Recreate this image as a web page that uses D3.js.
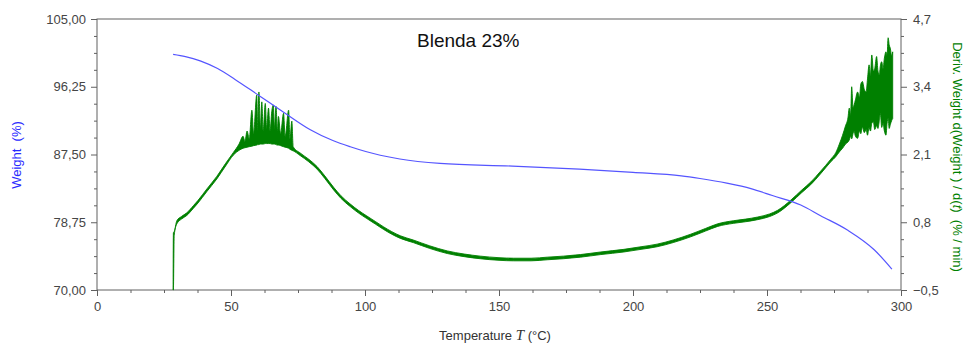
<!DOCTYPE html>
<html lang="en">
<head>
<meta charset="utf-8">
<title>Blenda 23%</title>
<script src="https://d3js.org/d3.v7.min.js"></script>
<style>
  body { margin: 0; background: #fff; }
  svg text { font-family: "Liberation Sans", Arial, sans-serif; }
  .tick text { fill: #454545; font-size: 13px; }
  .tick line { stroke: #606060; }
</style>
</head>
<body>
<svg width="970" height="349"></svg>
<script>
// weight curve (blue, left axis)
var weightT = [28.4, 33, 38.5, 45, 51.5, 60.1, 69.5, 79.6, 88, 94.5, 105.7, 113, 128, 155, 180, 200, 218, 225, 235, 244, 252, 262.6, 270, 280, 290, 296.6];
var weightVal = [100.44, 100.15, 99.6, 98.6, 97.2, 95.2, 93.0, 90.7, 89.3, 88.5, 87.4, 86.92, 86.35, 86.0, 85.6, 85.2, 84.75, 84.4, 83.8, 83.1, 82.2, 80.98, 79.6, 77.75, 75.2, 72.7];

// derivative curve (green, right axis) - lower / upper envelope of the noisy trace
var derivT = [28.4, 28.5, 28.8, 29.8, 31.5, 33.5, 36, 37.7, 41, 44.7, 48, 50.9, 53, 54.5, 55.2, 56, 56.8, 57.8, 58.4, 59.6, 60.0, 60.4, 61.0, 61.5, 62.0, 62.8, 63.3, 64.0, 64.6, 65.2, 65.8, 66.2, 66.8, 67.3, 67.7, 68.5, 69.6, 70.2, 71.5, 72.0, 72.7, 73.2, 75.8, 79, 82.1, 85, 88.3, 91, 94.5, 97.5, 100.7, 104, 107, 110, 113.2, 118, 124, 130.7, 137, 143, 150, 155.4, 162, 168, 174, 180.4, 188, 196.6, 203, 209, 215, 221.5, 227, 231.6, 237.6, 242, 246.5, 251, 254, 259, 263, 266.3, 270, 273.8, 275.7, 277, 278.2, 279.3, 280.2, 280.7, 281.2, 281.6, 282.1, 282.5, 283.0, 283.8, 284.5, 285.0, 285.6, 286.3, 287.0, 287.5, 288.1, 288.6, 289.1, 289.7, 290.2, 290.9, 291.4, 291.9, 292.3, 292.8, 293.3, 293.8, 294.4, 294.8, 295.2, 295.6, 296.0, 296.5, 296.9];
var derivLo = [-0.5, -0.5, 0.55, 0.77, 0.86, 0.93, 1.07, 1.17, 1.39, 1.63, 1.88, 2.09, 2.18, 2.22, 2.23, 2.24, 2.25, 2.26, 2.27, 2.28, 2.29, 2.29, 2.30, 2.30, 2.30, 2.31, 2.31, 2.31, 2.31, 2.30, 2.30, 2.30, 2.29, 2.28, 2.28, 2.27, 2.25, 2.24, 2.22, 2.20, 2.18, 2.17, 2.08, 1.96, 1.82, 1.64, 1.42, 1.26, 1.10, 0.98, 0.87, 0.76, 0.66, 0.57, 0.49, 0.41, 0.30, 0.20, 0.14, 0.10, 0.07, 0.06, 0.06, 0.08, 0.10, 0.13, 0.18, 0.23, 0.28, 0.33, 0.41, 0.52, 0.63, 0.72, 0.78, 0.81, 0.85, 0.91, 0.98, 1.18, 1.37, 1.52, 1.73, 1.96, 2.06, 2.15, 2.22, 2.30, 2.34, 2.38, 2.45, 2.40, 2.50, 2.54, 2.45, 2.41, 2.55, 2.50, 2.63, 2.52, 2.58, 2.47, 2.62, 2.55, 2.70, 2.73, 2.58, 2.65, 2.60, 2.75, 2.89, 2.62, 2.70, 2.55, 2.47, 2.70, 2.79, 2.60, 2.67, 2.75, 2.79];
var derivHi = [-0.5, 0.60, 0.62, 0.83, 0.91, 0.98, 1.12, 1.22, 1.44, 1.68, 1.93, 2.14, 2.30, 2.45, 2.35, 2.55, 2.40, 2.95, 2.50, 3.24, 2.55, 3.30, 2.60, 3.11, 2.55, 3.08, 2.60, 2.99, 2.55, 2.92, 3.05, 2.60, 3.02, 2.55, 2.83, 2.50, 2.89, 2.45, 2.95, 2.40, 2.74, 2.25, 2.13, 2.01, 1.87, 1.69, 1.47, 1.31, 1.15, 1.03, 0.92, 0.81, 0.71, 0.62, 0.54, 0.46, 0.35, 0.25, 0.19, 0.15, 0.12, 0.11, 0.11, 0.13, 0.15, 0.18, 0.23, 0.28, 0.33, 0.38, 0.46, 0.57, 0.68, 0.77, 0.83, 0.86, 0.90, 0.96, 1.03, 1.23, 1.42, 1.57, 1.78, 2.01, 2.14, 2.30, 2.47, 2.65, 2.80, 2.99, 2.85, 3.40, 3.00, 3.05, 3.15, 3.30, 3.20, 3.45, 3.50, 3.35, 3.30, 3.55, 3.82, 3.60, 4.01, 3.70, 3.75, 3.98, 3.70, 3.63, 3.80, 3.88, 3.75, 3.95, 4.07, 4.00, 4.34, 4.20, 4.14, 4.00, 4.07];

var xTicks = [0, 50, 100, 150, 200, 250, 300];
var leftTicks = [70, 78.75, 87.5, 96.25, 105];
var rightTicks = [-0.5, 0.8, 2.1, 3.4, 4.7];

var svg = d3.select("svg");
var plotLeft = 97, plotRight = 901, plotTop = 19, plotBottom = 290;

var x = d3.scaleLinear().domain([0, 300]).range([plotLeft, plotRight]);
var yL = d3.scaleLinear().domain([70, 105]).range([plotBottom, plotTop]);
var yR = d3.scaleLinear().domain([-0.5, 4.7]).range([plotBottom, plotTop]);

// minor ticks: 4 steps between majors
function minors(ticks) {
  var out = [];
  for (var i = 0; i < ticks.length - 1; i++) {
    var step = (ticks[i + 1] - ticks[i]) / 4;
    for (var k = 1; k < 4; k++) out.push(ticks[i] + k * step);
  }
  return out;
}
var comma = function(f) { return function(d) { return d3.format(f)(d).replace(".", ","); }; };
var noDomain = function(g) { g.select(".domain").remove(); };

// minor ticks
svg.append("g").attr("transform", "translate(0," + plotBottom + ")")
  .call(d3.axisBottom(x).tickValues(minors(xTicks)).tickSize(3).tickFormat(""))
  .call(noDomain);
svg.append("g").attr("transform", "translate(" + plotLeft + ",0)")
  .call(d3.axisLeft(yL).tickValues(minors(leftTicks)).tickSize(3).tickFormat(""))
  .call(noDomain);
svg.append("g").attr("transform", "translate(" + plotRight + ",0)")
  .call(d3.axisRight(yR).tickValues(minors(rightTicks)).tickSize(3).tickFormat(""))
  .call(noDomain);

// major ticks
svg.append("g").attr("transform", "translate(0," + plotBottom + ")")
  .call(d3.axisBottom(x).tickValues(xTicks).tickSize(6).tickPadding(6).tickFormat(d3.format("d")))
  .call(noDomain);
svg.append("g").attr("transform", "translate(" + plotLeft + ",0)")
  .call(d3.axisLeft(yL).tickValues(leftTicks).tickSize(6).tickPadding(5).tickFormat(comma(".2f")))
  .call(noDomain);
svg.append("g").attr("transform", "translate(" + plotRight + ",0)")
  .call(d3.axisRight(yR).tickValues(rightTicks).tickSize(6).tickPadding(6).tickFormat(comma(".1f")))
  .call(noDomain);

// frame
svg.append("rect")
  .attr("x", plotLeft).attr("y", plotTop)
  .attr("width", plotRight - plotLeft).attr("height", plotBottom - plotTop)
  .attr("fill", "none").attr("stroke", "#606060").attr("stroke-width", 1);

// derivative trace
var deriv = derivT.map(function(t, i) { return { t: t, lo: derivLo[i], hi: derivHi[i] }; });
svg.append("path")
  .datum(deriv)
  .attr("fill", "#008000")
  .attr("stroke", "#008000")
  .attr("stroke-width", 0.9)
  .attr("stroke-linejoin", "round")
  .attr("d", d3.area().curve(d3.curveMonotoneX)
    .x(function(d) { return x(d.t); })
    .y0(function(d) { return yR(d.lo); })
    .y1(function(d) { return yR(d.hi); }));

// weight trace
var weight = weightT.map(function(t, i) { return { t: t, w: weightVal[i] }; });
svg.append("path")
  .datum(weight)
  .attr("fill", "none")
  .attr("stroke", "#5555ff")
  .attr("stroke-width", 1.2)
  .attr("d", d3.line().curve(d3.curveMonotoneX)
    .x(function(d) { return x(d.t); })
    .y(function(d) { return yL(d.w); }));

// titles
svg.append("text")
  .attr("x", 417).attr("y", 47)
  .attr("font-size", 19).attr("fill", "#111")
  .text("Blenda 23%");

var xt = svg.append("text")
  .attr("x", 495).attr("y", 340)
  .attr("text-anchor", "middle").attr("font-size", 13).attr("fill", "#333");
xt.append("tspan").text("Temperature ");
xt.append("tspan").attr("font-style", "italic").style("font-family", "Liberation Serif, serif").attr("font-size", 15).text("T");
xt.append("tspan").text(" (°C)");

svg.append("text")
  .attr("transform", "translate(21,155) rotate(-90)")
  .attr("text-anchor", "middle").attr("font-size", 13).attr("fill", "#2a2aff")
  .style("white-space", "pre")
  .text("Weight  (%)");

var rt = svg.append("text")
  .attr("transform", "translate(953,157) rotate(90)")
  .attr("text-anchor", "middle").attr("font-size", 13).attr("fill", "#008000")
  .style("white-space", "pre");
rt.append("tspan").text("Deriv. Weight d(Weight ) / d(");
rt.append("tspan").attr("font-style", "italic").text("t");
rt.append("tspan").text(")  (% / min)");
</script>
</body>
</html>
